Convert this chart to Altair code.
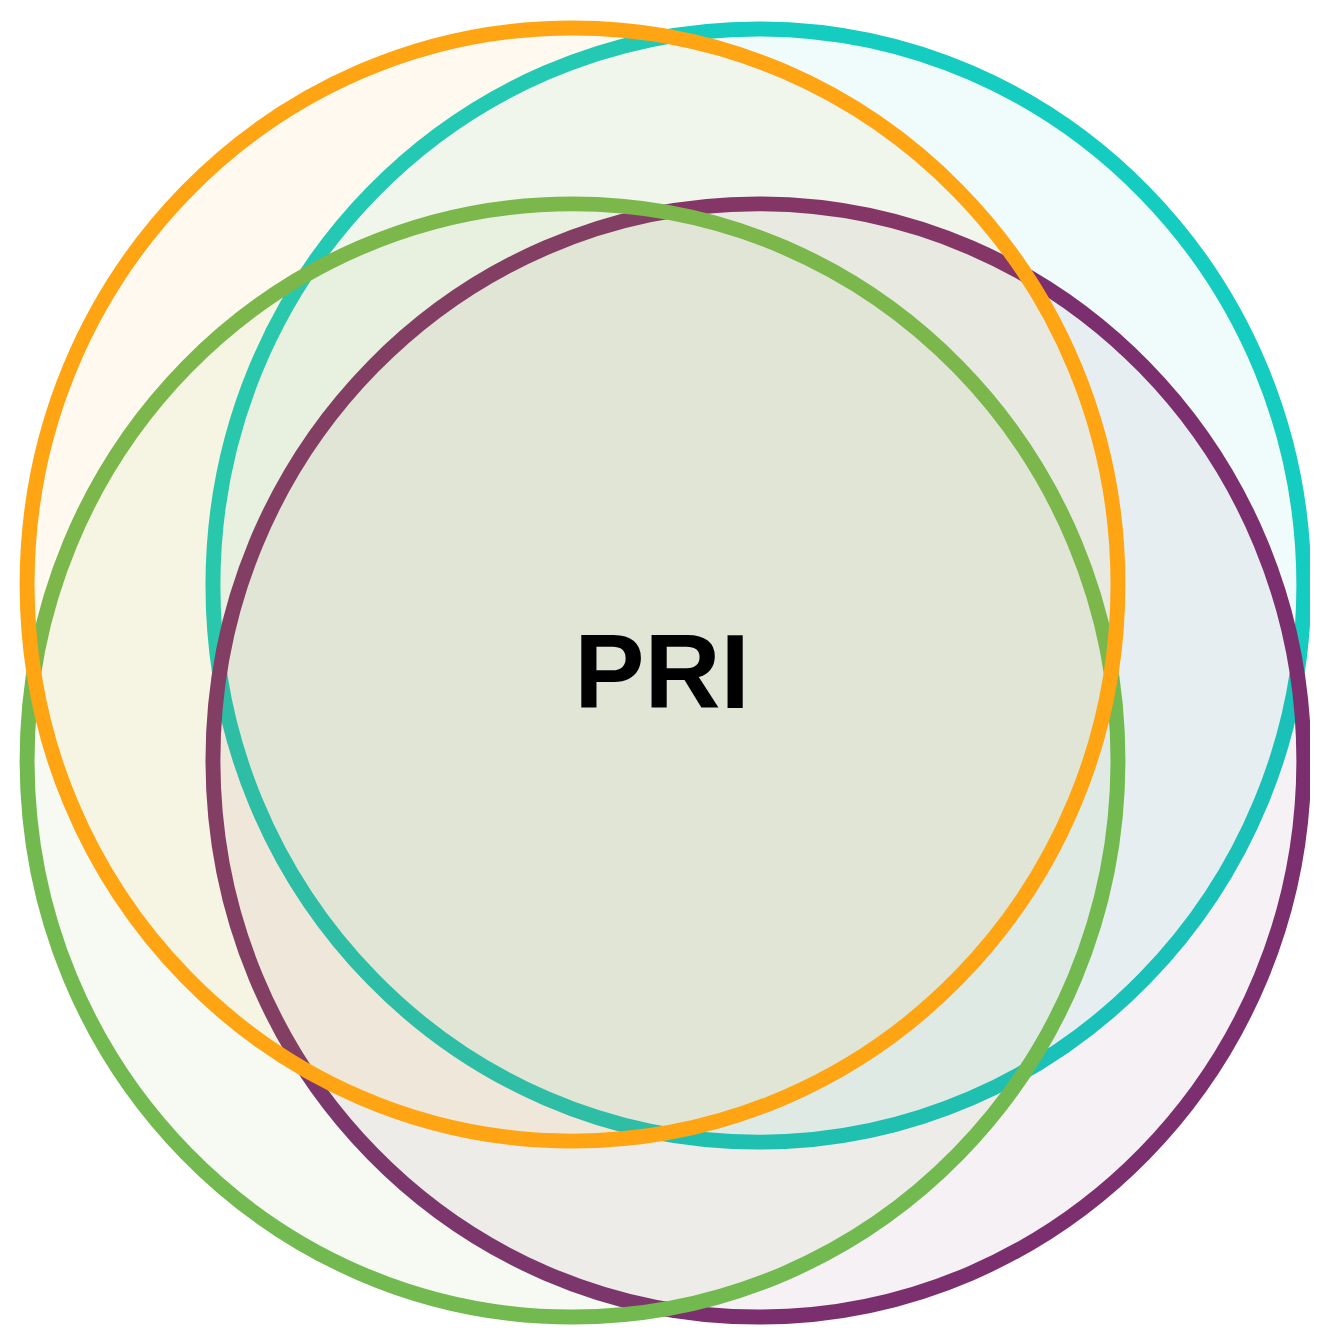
import altair as alt
import pandas as pd

# Four overlapping sets (drawn bottom -> top)
set_names = ["Teal", "Purple", "Green", "Orange"]
set_colors = ["#14CCBF", "#7C2F6E", "#72B94F", "#FFA514"]
center_x = [755, 755, 568, 568]
center_y = [577, 753, 753, 576]

label_text = ["PRI"]
label_x = [658]
label_y = [700]

W, H = 1310, 1323

circles = pd.DataFrame({"set": set_names, "x": center_x, "y": center_y})
labels = pd.DataFrame({"text": label_text, "x": label_x, "y": label_y})

xs = alt.Scale(domain=[0, W], nice=False, zero=False)
ys = alt.Scale(domain=[0, H], nice=False, zero=False, reverse=True)

ellipse = "M -0.98 0 A 0.98 1 0 1 1 0.98 0 A 0.98 1 0 1 1 -0.98 0 Z"
D = 1120

venn = alt.Chart(circles).mark_point(
    shape=ellipse, filled=True, fillOpacity=0.065, strokeOpacity=1, strokeWidth=15
).encode(
    x=alt.X("x:Q", scale=xs, axis=None),
    y=alt.Y("y:Q", scale=ys, axis=None),
    fill=alt.Fill("set:N", scale=alt.Scale(domain=set_names, range=set_colors), legend=None),
    stroke=alt.Stroke("set:N", scale=alt.Scale(domain=set_names, range=set_colors), legend=None),
    size=alt.value(D * D),
)

text = alt.Chart(labels).mark_text(
    font="Liberation Sans", fontWeight="bold", fontSize=106,
    align="center", baseline="alphabetic", color="black"
).encode(
    x=alt.X("x:Q", scale=xs, axis=None),
    y=alt.Y("y:Q", scale=ys, axis=None),
    text="text:N",
)

chart = alt.layer(venn, text).properties(
    width=W, height=H, padding=0,
    autosize=alt.AutoSizeParams(type="none"),
    background="white",
).configure_view(stroke=None)

chart.save("out.html", embed_options={"renderer": "svg", "actions": False})
